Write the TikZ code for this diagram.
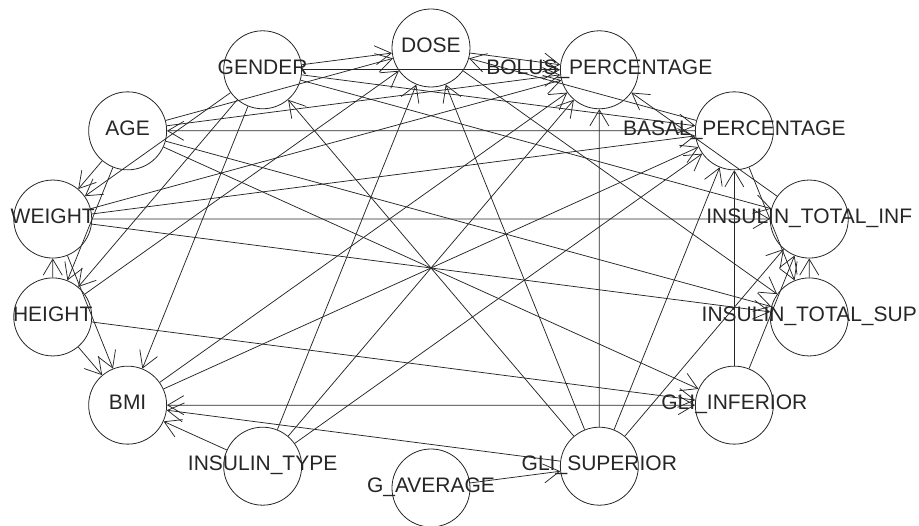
\documentclass[tikz,border=0pt]{standalone}
\usepackage{fontspec}
\setmainfont{Liberation Sans}
\usetikzlibrary{math,arrows.meta}

\begin{document}
\begin{tikzpicture}[
    var/.style={draw=black!85, circle, line width=0.8pt, minimum size=78pt, inner sep=0pt},
    lab/.style={font=\fontsize{21}{23}\selectfont, text=black!85, inner sep=0pt, text height=15pt, text depth=0pt, yshift=3pt},
    arc/.style={draw=black!85, line width=0.75pt, -{Straight Barb[length=16pt,width=19pt]}},
    twoway/.style={arc, {Straight Barb[length=16pt,width=19pt]}-{Straight Barb[length=16pt,width=19pt]}}]
  \tikzmath{\rx = 388; \ry = 220; \st = 360/14;}
  \useasboundingbox (-431pt,-258pt) rectangle (488pt,268pt);
  \node[var, label={[lab]center:DOSE}] (dose) at (90:\rx pt and \ry pt) {};
  \node[var, label={[lab]center:GENDER}] (gender) at ({90+\st}:\rx pt and \ry pt) {};
  \node[var, label={[lab]center:AGE}] (age) at ({90+2*\st}:\rx pt and \ry pt) {};
  \node[var, label={[lab]center:WEIGHT}] (weight) at ({90+3*\st}:\rx pt and \ry pt) {};
  \node[var, label={[lab]center:HEIGHT}] (height) at ({90+4*\st}:\rx pt and \ry pt) {};
  \node[var, label={[lab]center:BMI}] (bmi) at ({90+5*\st}:\rx pt and \ry pt) {};
  \node[var, label={[lab]center:INSULIN\_TYPE}] (instype) at ({90+6*\st}:\rx pt and \ry pt) {};
  \node[var, label={[lab]center:G\_AVERAGE}] (gavg) at ({90+7*\st}:\rx pt and \ry pt) {};
  \node[var, label={[lab]center:GLI\_SUPERIOR}] (glisup) at ({90+8*\st}:\rx pt and \ry pt) {};
  \node[var, label={[lab]center:GLI\_INFERIOR}] (gliinf) at ({90+9*\st}:\rx pt and \ry pt) {};
  \node[var, label={[lab]center:INSULIN\_TOTAL\_SUP}] (totsup) at ({90+10*\st}:\rx pt and \ry pt) {};
  \node[var, label={[lab]center:INSULIN\_TOTAL\_INF}] (totinf) at ({90+11*\st}:\rx pt and \ry pt) {};
  \node[var, label={[lab]center:BASAL\_PERCENTAGE}] (basal) at ({90+12*\st}:\rx pt and \ry pt) {};
  \node[var, label={[lab]center:BOLUS\_PERCENTAGE}] (bolus) at ({90+13*\st}:\rx pt and \ry pt) {};
  \draw[arc] (gender) -- (dose);
  \draw[arc] (age) -- (dose);
  \draw[arc] (height) -- (dose);
  \draw[arc] (instype) -- (dose);
  \draw[arc] (glisup) -- (dose);
  \draw[arc] (basal) -- (dose);
  \draw[arc] (dose) -- (bolus);
  \draw[arc] (gender) -- (bolus);
  \draw[arc] (age) -- (bolus);
  \draw[arc] (weight) -- (bolus);
  \draw[arc] (bmi) -- (bolus);
  \draw[arc] (instype) -- (bolus);
  \draw[arc] (glisup) -- (bolus);
  \draw[arc] (totinf) -- (bolus);
  \draw[arc] (gender) -- (basal);
  \draw[arc] (weight) -- (basal);
  \draw[arc] (bmi) -- (basal);
  \draw[arc] (instype) -- (basal);
  \draw[arc] (glisup) -- (basal);
  \draw[arc] (gliinf) -- (basal);
  \draw[arc] (age) -- (weight);
  \draw[arc] (gender) -- (weight);
  \draw[arc] (height) -- (weight);
  \draw[arc] (age) -- (height);
  \draw[arc] (gender) -- (height);
  \draw[arc] (height) -- (bmi);
  \draw[arc] (weight) -- (bmi);
  \draw[arc] (gender) -- (bmi);
  \draw[arc] (glisup) -- (bmi);
  \draw[arc] (instype) -- (bmi);
  \draw[twoway] (bmi) -- (gliinf);
  \draw[arc] (age) -- (gliinf);
  \draw[arc] (height) -- (gliinf);
  \draw[arc] (gliinf) -- (totinf);
  \draw[arc] (glisup) -- (totinf);
  \draw[arc] (totsup) -- (totinf);
  \draw[arc] (weight) -- (totinf);
  \draw[arc] (gender) -- (totinf);
  \draw[arc] (weight) -- (totsup);
  \draw[arc] (age) -- (totsup);
  \draw[arc] (basal) -- (totsup);
  \draw[arc] (dose) -- (totsup);
  \draw[arc] (basal) -- (age);
  \draw[arc] (glisup) -- (gender);
  \draw[arc] (gavg) -- (glisup);
\end{tikzpicture}
\end{document}
